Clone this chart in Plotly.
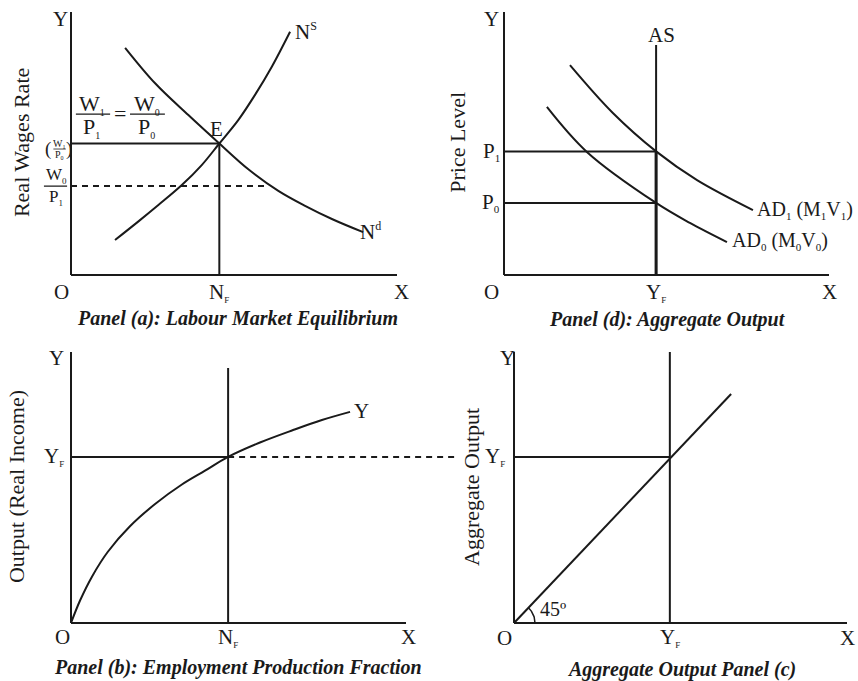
import numpy as np
import plotly.graph_objects as go

W, H = 858, 681
FONT = "Liberation Serif"
INK = "#1a1a1a"

# ---------------- Panel (a): labour market equilibrium ----------------
ns_x = [1.35, 2.06, 2.68, 3.40, 4.01, 4.55, 5.13, 5.64, 6.16, 6.72]
ns_y = [1.33, 2.03, 2.66, 3.42, 4.18, 5.00, 5.89, 6.84, 7.92, 9.25]
nd_x = [1.66, 2.58, 3.60, 4.55, 5.44, 6.36, 7.18, 8.02, 8.96]
nd_y = [8.64, 7.29, 6.08, 5.00, 4.02, 3.20, 2.63, 2.12, 1.63]
NF_A = 4.55          # full-employment labour
WAGE_EQ = 5.00       # W1/P1 = W0/P0
WAGE_LOW = 3.38      # W0/P1
WAGE_LOW_END = 6.04

# ---------------- Panel (d): aggregate output ----------------
ad1_x = [2.03, 3.35, 4.68, 5.94, 7.66]
ad1_y = [7.98, 6.16, 4.70, 3.61, 2.47]
ad0_x = [1.32, 2.55, 4.68, 5.72, 6.86]
ad0_y = [6.39, 4.68, 2.74, 1.98, 1.25]
YF_D = 4.68
AS_TOP = 8.75
P1 = 4.70
P0 = 2.74

# ---------------- Panel (b): production function ----------------
prod_x = [0.0, 0.27, 0.63, 1.10, 1.76, 2.51, 3.31, 4.00, 4.69, 5.64, 6.63, 7.49, 8.33]
prod_y = [0.0, 0.83, 1.72, 2.63, 3.57, 4.39, 5.11, 5.62, 6.13, 6.66, 7.12, 7.49, 7.79]
NF_B = 4.69
NF_B_TOP = 9.41
YF_B = 6.13
YF_DASH_END = 11.55

# ---------------- Panel (c): 45-degree line ----------------
diag_x = [0.0, 6.52]
diag_y = [0.0, 8.45]
YF_C = 4.68
YF_C_LEVEL = 6.13
YF_C_TOP = 10.0

AXIS_LEN = 10.0

# Pixel frames: origin (px), pixels per unit, visible ranges
frames = {
    "a": dict(ox=71, oy=275, ux=32.6, uy=26.3, xr=[-1.7, 10.5], yr=[-1.95, 10.3]),
    "d": dict(ox=504, oy=275, ux=32.5, uy=26.3, xr=[-1.6, 10.4], yr=[-1.95, 10.3]),
    "b": dict(ox=71, oy=623, ux=33.5, uy=27.1, xr=[-1.75, 11.7], yr=[-1.95, 10.3]),
    "c": dict(ox=514, oy=623, ux=33.3, uy=27.1, xr=[-1.45, 10.2], yr=[-1.95, 10.3]),
}
axis_ids = {"a": ("x", "y"), "d": ("x2", "y2"), "b": ("x3", "y3"), "c": ("x4", "y4")}

fig = go.Figure()
layout_axes = {}
for key, f in frames.items():
    xa, ya = axis_ids[key]
    xdom = [(f["ox"] + f["xr"][0] * f["ux"]) / W, (f["ox"] + f["xr"][1] * f["ux"]) / W]
    ydom = [1 - (f["oy"] - f["yr"][0] * f["uy"]) / H, 1 - (f["oy"] - f["yr"][1] * f["uy"]) / H]
    layout_axes["xaxis" + xa[1:]] = dict(domain=xdom, range=f["xr"], visible=False,
                                         fixedrange=True, anchor=ya)
    layout_axes["yaxis" + ya[1:]] = dict(domain=ydom, range=f["yr"], visible=False,
                                         fixedrange=True, anchor=xa)


def line(panel, xs, ys, width=2, dash="solid", spline=False):
    xa, ya = axis_ids[panel]
    fig.add_trace(go.Scatter(
        x=xs, y=ys, mode="lines", xaxis=xa, yaxis=ya,
        line=dict(color=INK, width=width, dash=dash,
                  shape="spline" if spline else "linear", smoothing=1.0),
        hoverinfo="skip", showlegend=False))


annotations = []
shapes = []


def label(panel, x, y, text, size=21, xanchor="center", yanchor="middle", textangle=0):
    xa, ya = axis_ids[panel]
    annotations.append(dict(
        x=x, y=y, xref=xa, yref=ya, text=text, showarrow=False,
        xanchor=xanchor, yanchor=yanchor, textangle=textangle,
        font=dict(family=FONT, size=size, color=INK)))


def bar(panel, x0, x1, y, width=1.3):
    xa, ya = axis_ids[panel]
    shapes.append(dict(type="line", xref=xa, yref=ya, x0=x0, x1=x1, y0=y, y1=y,
                       line=dict(color=INK, width=width)))


def sub(base, s, size=11):
    return f"{base}<sub><span style='font-size:{size}px'>{s}</span></sub>"


def sup(base, s, size=12):
    return f"{base}<sup><span style='font-size:{size}px'>{s}</span></sup>"


def axes(panel):
    line(panel, [0, AXIS_LEN], [0, 0])
    line(panel, [0, 0], [0, AXIS_LEN])


def title(panel, x, y, text):
    label(panel, x, y, f"<b><i>{text}</i></b>", size=20)


# ---- Panel (a)
axes("a")
line("a", ns_x, ns_y, spline=True)
line("a", nd_x, nd_y, spline=True)
line("a", [0, NF_A], [WAGE_EQ, WAGE_EQ])
line("a", [NF_A, NF_A], [0, WAGE_EQ])
line("a", [0, WAGE_LOW_END], [WAGE_LOW, WAGE_LOW], dash="6px,5px")
label("a", -0.31, 9.73, "Y")
label("a", -0.28, -0.65, "O")
label("a", NF_A, -0.65, sub("N", "F", 9))
label("a", 10.15, -0.65, "X")
label("a", 4.45, 5.55, "E")
label("a", 6.81, 9.24, sup("N", "S", 12), xanchor="left")
label("a", 8.80, 1.67, sup("N", "d", 12), xanchor="left")
# W1/P1 = W0/P0
label("a", 0.64, 6.50, sub("W", "1", 10), size=22)
bar("a", 0.15, 1.20, 6.12)
label("a", 0.64, 5.62, sub("P", "1", 10), size=22)
label("a", 1.50, 6.14, "=", size=22)
label("a", 2.33, 6.50, sub("W", "0", 10), size=22)
bar("a", 1.81, 2.88, 6.12)
label("a", 2.33, 5.62, sub("P", "0", 10), size=22)
# (W1/P0) small fraction at the equilibrium wage
label("a", -0.72, 4.80, "(", size=19)
label("a", -0.06, 4.80, ")", size=19)
label("a", -0.36, 4.99, sub("W", "1", 6), size=10)
bar("a", -0.54, -0.16, 4.79, width=0.8)
label("a", -0.36, 4.57, sub("P", "0", 6), size=10)
# W0/P1
label("a", -0.46, 3.78, sub("W", "0", 9), size=17)
bar("a", -0.83, -0.12, 3.38)
label("a", -0.46, 2.96, sub("P", "1", 9), size=17)
label("a", -1.50, 5.02, "Real Wages Rate", size=22, textangle=-90)
title("a", 5.12, -1.67, "Panel (a): Labour Market Equilibrium")

# ---- Panel (d)
axes("d")
line("d", ad1_x, ad1_y, spline=True)
line("d", ad0_x, ad0_y, spline=True)
line("d", [YF_D, YF_D], [0, AS_TOP])
line("d", [YF_D, YF_D], [0, P1], width=3)
line("d", [0, YF_D], [P1, P1])
line("d", [0, YF_D], [P0, P0])
label("d", -0.40, 9.73, "Y")
label("d", -0.37, -0.65, "O")
label("d", YF_D, -0.65, sub("Y", "F", 9))
label("d", 10.0, -0.65, "X")
label("d", 4.86, 9.13, "AS")
label("d", -0.40, P1, sub("P", "1", 11))
label("d", -0.40, P0, sub("P", "0", 11))
label("d", 7.72, 2.47, sub("AD", "1") + " (" + sub("M", "1") + sub("V", "1") + ")",
      size=20, xanchor="left")
label("d", 6.95, 1.28, sub("AD", "0") + " (" + sub("M", "0") + sub("V", "0") + ")",
      size=20, xanchor="left")
label("d", -1.42, 5.06, "Price Level", size=22, textangle=-90)
title("d", 5.02, -1.71, "Panel (d): Aggregate Output")

# ---- Panel (b)
axes("b")
line("b", prod_x, prod_y, spline=True)
line("b", [NF_B, NF_B], [0, NF_B_TOP])
line("b", [0, NF_B], [YF_B, YF_B])
line("b", [NF_B, YF_DASH_END], [YF_B, YF_B], dash="6px,5px")
label("b", -0.42, 9.78, "Y")
label("b", -0.24, -0.52, "O")
label("b", NF_B, -0.52, sub("N", "F", 9))
label("b", 10.06, -0.52, "X")
label("b", -0.15, YF_B, sub("Y", "F", 9), xanchor="right")
label("b", 8.39, 7.82, "Y", xanchor="left")
label("b", -1.61, 5.02, "Output (Real Income)", size=22, textangle=-90)
title("b", 4.99, -1.66, "Panel (b): Employment Production Fraction")

# ---- Panel (c)
axes("c")
line("c", diag_x, diag_y)
line("c", [YF_C, YF_C], [0, YF_C_TOP])
line("c", [0, YF_C], [YF_C_LEVEL, YF_C_LEVEL])
# angle marker at the origin
fc = frames["c"]
ang = np.arctan2(diag_y[1] * fc["uy"], diag_x[1] * fc["ux"])
t = np.linspace(0, ang, 30)
r_px = 21
line("c", list(r_px * np.cos(t) / fc["ux"]), list(r_px * np.sin(t) / fc["uy"]), width=1.5)
label("c", 1.17, 0.52, "45º", size=20)
label("c", -0.21, 9.78, "Y")
label("c", -0.30, -0.55, "O")
label("c", YF_C, -0.55, sub("Y", "F", 9))
label("c", 10.03, -0.55, "X")
label("c", -0.21, YF_C_LEVEL, sub("Y", "F", 9), xanchor="right")
label("c", -1.26, 5.02, "Aggregate Output", size=22, textangle=-90)
title("c", 5.02, -1.70, "Aggregate Output Panel (c)")

fig.update_layout(
    width=W, height=H,
    margin=dict(l=0, r=0, t=0, b=0),
    paper_bgcolor="white", plot_bgcolor="white",
    annotations=annotations, shapes=shapes,
    **layout_axes,
)
fig.write_html("out.html")
